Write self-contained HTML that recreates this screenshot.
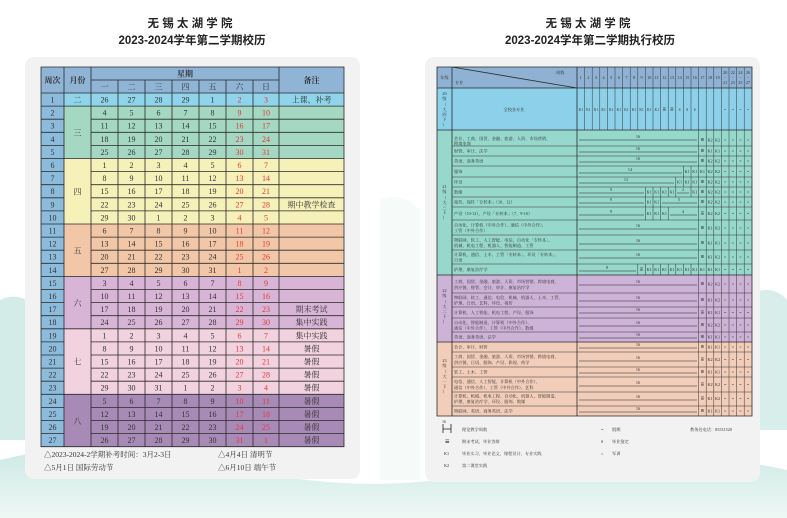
<!DOCTYPE html>
<html><head><meta charset="utf-8"><style>
html,body{margin:0;padding:0;background:#fff;}
svg{display:block;font-family:"Liberation Serif","Noto Serif CJK SC",serif;}
.t{font-family:"Liberation Sans","Noto Sans CJK SC",sans-serif;font-weight:bold;font-size:11.5px;fill:#222;text-anchor:middle}
.L text{font-size:8px;fill:#333;text-anchor:middle}
.L .r{fill:#e03a3a}
.R text{font-size:4.2px;fill:#333}
.R .c{text-anchor:middle}
.ln{stroke:#2a2a2a;stroke-width:0.8;fill:none}
.thin{stroke:#333;stroke-width:0.5;fill:none}
</style></head><body>
<svg width="787" height="518" viewBox="0 0 787 518" xmlns="http://www.w3.org/2000/svg">
<defs>
<linearGradient id="hill" x1="0" y1="0" x2="0" y2="1"><stop offset="0" stop-color="#bfe3dc"/><stop offset="1" stop-color="#eaf6f3"/></linearGradient>
</defs>
<rect width="787" height="518" fill="#fff"/>
<path d="M0 300 Q20 290 40 310 L40 440 L0 440Z" fill="#d3ece7"/>
<path d="M0 460 Q120 430 250 470 Q380 500 520 465 Q650 440 787 470 L787 518 L0 518Z" fill="url(#hill)" opacity="0.8"/>
<path d="M740 300 Q770 280 787 300 L787 430 L740 430Z" fill="#d8eeea"/>
<path d="M380 200 Q400 190 420 210 L420 480 L380 480Z" fill="#f6fbfa"/>
<text class="t" x="190" y="27">无 锡 太 湖 学 院</text>
<text class="t" x="192" y="44">2023-2024学年第二学期校历</text>
<text class="t" x="588" y="27">无 锡 太 湖 学 院</text>
<text class="t" x="590" y="44">2023-2024学年第二学期执行校历</text>
<rect x="25" y="57" width="335" height="422" rx="9" fill="#f2f2f2"/>
<rect x="425" y="57" width="335" height="425" rx="9" fill="#f2f2f2"/>

<g class="L">
<rect x="41" y="67" width="303" height="26" fill="#8fb4d6"/>
<rect x="41" y="93" width="23" height="353.7" fill="#8cbbdc"/>
<rect x="64" y="93" width="280" height="13.1" fill="#8fd4ea"/>
<rect x="64" y="106.1" width="280" height="52.4" fill="#a4d8c2"/>
<rect x="64" y="158.5" width="280" height="65.5" fill="#f6f0b9"/>
<rect x="64" y="224" width="280" height="52.4" fill="#f2c7a8"/>
<rect x="64" y="276.4" width="280" height="52.4" fill="#d8b5d6"/>
<rect x="64" y="328.8" width="280" height="65.5" fill="#f2d2de"/>
<rect x="64" y="394.3" width="280" height="52.4" fill="#a88ab6"/>
<path class="ln" d="M41 67H344V446.7H41Z M91 67V446.7 M64 67V446.7 M279 67V446.7 M91 80H279 M118 80V446.7 M145 80V446.7 M172 80V446.7 M199 80V446.7 M226 80V446.7 M253 80V446.7
M41 93H344 M41 106.1H344 M41 158.5H344 M41 224H344 M41 276.4H344 M41 328.8H344 M41 394.3H344
M41 119.2H64M91 119.2H344 M41 132.3H64M91 132.3H344 M41 145.4H64M91 145.4H344
M41 171.6H64M91 171.6H344 M41 184.7H64M91 184.7H344 M41 197.8H64M91 197.8H344 M41 210.9H64M91 210.9H344
M41 237.1H64M91 237.1H344 M41 250.2H64M91 250.2H344 M41 263.3H64M91 263.3H344
M41 289.5H64M91 289.5H344 M41 302.6H64M91 302.6H344 M41 315.7H64M91 315.7H344
M41 341.9H64M91 341.9H344 M41 355H64M91 355H344 M41 368.1H64M91 368.1H344 M41 381.2H64M91 381.2H344
M41 407.4H64M91 407.4H344 M41 420.5H64M91 420.5H344 M41 433.6H64M91 433.6H344"/>
<text x="52.5" y="83" style="font-weight:bold">周次</text>
<text x="77.5" y="83" style="font-weight:bold">月份</text>
<text x="185" y="76.5" style="font-weight:bold">星期</text>
<text x="311.5" y="83" style="font-weight:bold">备注</text>
<text y="89.5"><tspan x="104.5">一</tspan><tspan x="131.5">二</tspan><tspan x="158.5">三</tspan><tspan x="185.5">四</tspan><tspan x="212.5">五</tspan><tspan x="239.5">六</tspan><tspan x="266">日</tspan></text>
<text x="77.5" y="102.5">二</text><text x="77.5" y="135.5">三</text><text x="77.5" y="194.5">四</text><text x="77.5" y="253.5">五</text><text x="77.5" y="306">六</text><text x="77.5" y="364.5">七</text><text x="77.5" y="424">八</text>
<text y="102.5"><tspan x="52.5">1</tspan><tspan x="104.5">26</tspan><tspan x="131.5">27</tspan><tspan x="158.5">28</tspan><tspan x="185.5">29</tspan><tspan x="212.5">1</tspan><tspan x="239.5" class="r">2</tspan><tspan x="266" class="r">3</tspan><tspan x="311.5">上课、补考</tspan></text>
<text y="115.6"><tspan x="52.5">2</tspan><tspan x="104.5">4</tspan><tspan x="131.5">5</tspan><tspan x="158.5">6</tspan><tspan x="185.5">7</tspan><tspan x="212.5">8</tspan><tspan x="239.5" class="r">9</tspan><tspan x="266" class="r">10</tspan></text>
<text y="128.7"><tspan x="52.5">3</tspan><tspan x="104.5">11</tspan><tspan x="131.5">12</tspan><tspan x="158.5">13</tspan><tspan x="185.5">14</tspan><tspan x="212.5">15</tspan><tspan x="239.5" class="r">16</tspan><tspan x="266" class="r">17</tspan></text>
<text y="141.8"><tspan x="52.5">4</tspan><tspan x="104.5">18</tspan><tspan x="131.5">19</tspan><tspan x="158.5">20</tspan><tspan x="185.5">21</tspan><tspan x="212.5">22</tspan><tspan x="239.5" class="r">23</tspan><tspan x="266" class="r">24</tspan></text>
<text y="154.9"><tspan x="52.5">5</tspan><tspan x="104.5">25</tspan><tspan x="131.5">26</tspan><tspan x="158.5">27</tspan><tspan x="185.5">28</tspan><tspan x="212.5">29</tspan><tspan x="239.5" class="r">30</tspan><tspan x="266" class="r">31</tspan></text>
<text y="168"><tspan x="52.5">6</tspan><tspan x="104.5">1</tspan><tspan x="131.5">2</tspan><tspan x="158.5">3</tspan><tspan x="185.5">4</tspan><tspan x="212.5">5</tspan><tspan x="239.5" class="r">6</tspan><tspan x="266" class="r">7</tspan></text>
<text y="181.1"><tspan x="52.5">7</tspan><tspan x="104.5">8</tspan><tspan x="131.5">9</tspan><tspan x="158.5">10</tspan><tspan x="185.5">11</tspan><tspan x="212.5">12</tspan><tspan x="239.5" class="r">13</tspan><tspan x="266" class="r">14</tspan></text>
<text y="194.2"><tspan x="52.5">8</tspan><tspan x="104.5">15</tspan><tspan x="131.5">16</tspan><tspan x="158.5">17</tspan><tspan x="185.5">18</tspan><tspan x="212.5">19</tspan><tspan x="239.5" class="r">20</tspan><tspan x="266" class="r">21</tspan></text>
<text y="207.3"><tspan x="52.5">9</tspan><tspan x="104.5">22</tspan><tspan x="131.5">23</tspan><tspan x="158.5">24</tspan><tspan x="185.5">25</tspan><tspan x="212.5">26</tspan><tspan x="239.5" class="r">27</tspan><tspan x="266" class="r">28</tspan><tspan x="311.5">期中教学检查</tspan></text>
<text y="220.4"><tspan x="52.5">10</tspan><tspan x="104.5">29</tspan><tspan x="131.5">30</tspan><tspan x="158.5">1</tspan><tspan x="185.5">2</tspan><tspan x="212.5">3</tspan><tspan x="239.5" class="r">4</tspan><tspan x="266" class="r">5</tspan></text>
<text y="233.5"><tspan x="52.5">11</tspan><tspan x="104.5">6</tspan><tspan x="131.5">7</tspan><tspan x="158.5">8</tspan><tspan x="185.5">9</tspan><tspan x="212.5">10</tspan><tspan x="239.5" class="r">11</tspan><tspan x="266" class="r">12</tspan></text>
<text y="246.6"><tspan x="52.5">12</tspan><tspan x="104.5">13</tspan><tspan x="131.5">14</tspan><tspan x="158.5">15</tspan><tspan x="185.5">16</tspan><tspan x="212.5">17</tspan><tspan x="239.5" class="r">18</tspan><tspan x="266" class="r">19</tspan></text>
<text y="259.7"><tspan x="52.5">13</tspan><tspan x="104.5">20</tspan><tspan x="131.5">21</tspan><tspan x="158.5">22</tspan><tspan x="185.5">23</tspan><tspan x="212.5">24</tspan><tspan x="239.5" class="r">25</tspan><tspan x="266" class="r">26</tspan></text>
<text y="272.8"><tspan x="52.5">14</tspan><tspan x="104.5">27</tspan><tspan x="131.5">28</tspan><tspan x="158.5">29</tspan><tspan x="185.5">30</tspan><tspan x="212.5">31</tspan><tspan x="239.5" class="r">1</tspan><tspan x="266" class="r">2</tspan></text>
<text y="285.9"><tspan x="52.5">15</tspan><tspan x="104.5">3</tspan><tspan x="131.5">4</tspan><tspan x="158.5">5</tspan><tspan x="185.5">6</tspan><tspan x="212.5">7</tspan><tspan x="239.5" class="r">8</tspan><tspan x="266" class="r">9</tspan></text>
<text y="299"><tspan x="52.5">16</tspan><tspan x="104.5">10</tspan><tspan x="131.5">11</tspan><tspan x="158.5">12</tspan><tspan x="185.5">13</tspan><tspan x="212.5">14</tspan><tspan x="239.5" class="r">15</tspan><tspan x="266" class="r">16</tspan></text>
<text y="312.1"><tspan x="52.5">17</tspan><tspan x="104.5">17</tspan><tspan x="131.5">18</tspan><tspan x="158.5">19</tspan><tspan x="185.5">20</tspan><tspan x="212.5">21</tspan><tspan x="239.5" class="r">22</tspan><tspan x="266" class="r">23</tspan><tspan x="311.5">期末考试</tspan></text>
<text y="325.2"><tspan x="52.5">18</tspan><tspan x="104.5">24</tspan><tspan x="131.5">25</tspan><tspan x="158.5">26</tspan><tspan x="185.5">27</tspan><tspan x="212.5">28</tspan><tspan x="239.5" class="r">29</tspan><tspan x="266" class="r">30</tspan><tspan x="311.5">集中实践</tspan></text>
<text y="338.3"><tspan x="52.5">19</tspan><tspan x="104.5">1</tspan><tspan x="131.5">2</tspan><tspan x="158.5">3</tspan><tspan x="185.5">4</tspan><tspan x="212.5">5</tspan><tspan x="239.5" class="r">6</tspan><tspan x="266" class="r">7</tspan><tspan x="311.5">集中实践</tspan></text>
<text y="351.4"><tspan x="52.5">20</tspan><tspan x="104.5">8</tspan><tspan x="131.5">9</tspan><tspan x="158.5">10</tspan><tspan x="185.5">11</tspan><tspan x="212.5">12</tspan><tspan x="239.5" class="r">13</tspan><tspan x="266" class="r">14</tspan><tspan x="311.5">暑假</tspan></text>
<text y="364.5"><tspan x="52.5">21</tspan><tspan x="104.5">15</tspan><tspan x="131.5">16</tspan><tspan x="158.5">17</tspan><tspan x="185.5">18</tspan><tspan x="212.5">19</tspan><tspan x="239.5" class="r">20</tspan><tspan x="266" class="r">21</tspan><tspan x="311.5">暑假</tspan></text>
<text y="377.6"><tspan x="52.5">22</tspan><tspan x="104.5">22</tspan><tspan x="131.5">23</tspan><tspan x="158.5">24</tspan><tspan x="185.5">25</tspan><tspan x="212.5">26</tspan><tspan x="239.5" class="r">27</tspan><tspan x="266" class="r">28</tspan><tspan x="311.5">暑假</tspan></text>
<text y="390.7"><tspan x="52.5">23</tspan><tspan x="104.5">29</tspan><tspan x="131.5">30</tspan><tspan x="158.5">31</tspan><tspan x="185.5">1</tspan><tspan x="212.5">2</tspan><tspan x="239.5" class="r">3</tspan><tspan x="266" class="r">4</tspan><tspan x="311.5">暑假</tspan></text>
<text y="403.8"><tspan x="52.5">24</tspan><tspan x="104.5">5</tspan><tspan x="131.5">6</tspan><tspan x="158.5">7</tspan><tspan x="185.5">8</tspan><tspan x="212.5">9</tspan><tspan x="239.5" class="r">10</tspan><tspan x="266" class="r">11</tspan><tspan x="311.5">暑假</tspan></text>
<text y="416.9"><tspan x="52.5">25</tspan><tspan x="104.5">12</tspan><tspan x="131.5">13</tspan><tspan x="158.5">14</tspan><tspan x="185.5">15</tspan><tspan x="212.5">16</tspan><tspan x="239.5" class="r">17</tspan><tspan x="266" class="r">18</tspan><tspan x="311.5">暑假</tspan></text>
<text y="430"><tspan x="52.5">26</tspan><tspan x="104.5">19</tspan><tspan x="131.5">20</tspan><tspan x="158.5">21</tspan><tspan x="185.5">22</tspan><tspan x="212.5">23</tspan><tspan x="239.5" class="r">24</tspan><tspan x="266" class="r">25</tspan><tspan x="311.5">暑假</tspan></text>
<text y="443.1"><tspan x="52.5">27</tspan><tspan x="104.5">26</tspan><tspan x="131.5">27</tspan><tspan x="158.5">28</tspan><tspan x="185.5">29</tspan><tspan x="212.5">30</tspan><tspan x="239.5" class="r">31</tspan><tspan x="266" class="r">1</tspan><tspan x="311.5">暑假</tspan></text>
<text x="44" y="457" style="text-anchor:start;font-size:7.5px">△2023-2024-2学期补考时间：3月2-3日</text>
<text x="218" y="457" style="text-anchor:start;font-size:7.5px">△4月4日  清明节</text>
<text x="44" y="470" style="text-anchor:start;font-size:7.5px">△5月1日  国际劳动节</text>
<text x="218" y="470" style="text-anchor:start;font-size:7.5px">△6月10日  端午节</text>
</g>

<g class="R">
<rect x="437" y="67" width="315" height="21" fill="#8fb2d4"/>
<rect x="437" y="88" width="315" height="42" fill="#8dd0ea"/>
<rect x="437" y="130" width="315" height="145" fill="#97d8cd"/>
<rect x="437" y="275" width="315" height="67" fill="#cdb3d8"/>
<rect x="437" y="342" width="315" height="74" fill="#f2cdb9"/>
<path class="ln" d="M437 67H752V416H437Z M452 67V416 M577 67V416 M437 88H752 M437 130H752 M437 275H752 M437 342H752 M452 67L577 88"/>
<path class="thin" d="M584.6 67V130 M592.2 67V130 M599.8 67V130 M607.4 67V130 M615 67V130 M622.6 67V130 M630.2 67V130 M637.8 67V130 M645.4 67V130 M653 67V130 M660.6 67V130 M668.2 67V130 M675.8 67V130 M683.4 67V130 M691 67V130
M698.6 67V416 M706.2 67V416 M713.8 67V416 M721.4 67V416 M729 67V416 M736.6 67V416 M744.2 67V416
M452 146H752 M452 156H752 M452 166H752 M452 177H752 M452 187H752 M452 197H752 M452 207H752 M452 220H752 M452 235H752 M452 250H752 M452 264H752
M452 293H752 M452 307H752 M452 318H752 M452 332H752 M452 352H752 M452 367H752 M452 377H752 M452 392H752 M452 406H752
M683.4 166V177 M691 166V177 M675.8 177V187 M683.4 177V187 M691 177V187 M645.4 187V197 M653 187V197 M660.6 187V197 M668.2 187V197 M675.8 187V197 M691 187V197 M645.4 197V207 M653 197V207 M660.6 197V207 M645.4 207V220 M653 207V220 M660.6 207V220 M668.2 207V220 M637.8 264V275 M645.4 264V275 M653 264V275 M660.6 264V275 M668.2 264V275 M675.8 264V275 M683.4 264V275 M691 264V275"/>
<text x="444.5" y="79" class="c">年级</text>
<text x="455" y="84">专业</text>
<text x="556" y="74">周数</text>
<text y="79" class="c"><tspan x="580.8">1</tspan><tspan x="588.4">2</tspan><tspan x="596">3</tspan><tspan x="603.6">4</tspan><tspan x="611.2">5</tspan><tspan x="618.8">6</tspan><tspan x="626.4">7</tspan><tspan x="634">8</tspan><tspan x="641.6">9</tspan><tspan x="649.2">10</tspan><tspan x="656.8">11</tspan><tspan x="664.4">12</tspan><tspan x="672">13</tspan><tspan x="679.6">14</tspan><tspan x="687.2">15</tspan><tspan x="694.8">16</tspan><tspan x="702.4">17</tspan><tspan x="710">18</tspan><tspan x="717.6">19</tspan></text>
<text y="74" class="c"><tspan x="725.2">20</tspan><tspan x="732.8">22</tspan><tspan x="740.4">24</tspan><tspan x="748">26</tspan></text>
<text y="79" class="c"><tspan x="725.2">-</tspan><tspan x="732.8">-</tspan><tspan x="740.4">-</tspan><tspan x="748">-</tspan></text>
<text y="84" class="c"><tspan x="725.2">21</tspan><tspan x="732.8">23</tspan><tspan x="740.4">25</tspan><tspan x="748">27</tspan></text>
<text class="c" x="444.5"><tspan x="444.5" y="95">20</tspan><tspan x="444.5" y="100">级</tspan><tspan x="444.5" y="106">（</tspan><tspan x="444.5" y="111">大</tspan><tspan x="444.5" y="116">四</tspan><tspan x="444.5" y="121">下</tspan><tspan x="444.5" y="126">）</tspan></text>
<text class="c"><tspan x="444.5" y="188">21</tspan><tspan x="444.5" y="193">级</tspan><tspan x="444.5" y="199">（</tspan><tspan x="444.5" y="204">大</tspan><tspan x="444.5" y="209">三</tspan><tspan x="444.5" y="214">下</tspan><tspan x="444.5" y="219">）</tspan></text>
<text class="c"><tspan x="444.5" y="292">22</tspan><tspan x="444.5" y="297">级</tspan><tspan x="444.5" y="303">（</tspan><tspan x="444.5" y="308">大</tspan><tspan x="444.5" y="313">二</tspan><tspan x="444.5" y="318">下</tspan><tspan x="444.5" y="323">）</tspan></text>
<text class="c"><tspan x="444.5" y="362">23</tspan><tspan x="444.5" y="367">级</tspan><tspan x="444.5" y="373">（</tspan><tspan x="444.5" y="378">大</tspan><tspan x="444.5" y="383">一</tspan><tspan x="444.5" y="388">下</tspan><tspan x="444.5" y="393">）</tspan></text>
<text x="514" y="111" class="c">全校各专业</text>
<text y="111" class="c" style="font-size:3.6px"><tspan x="580.8">K1</tspan><tspan x="588.4">K1</tspan><tspan x="596">K1</tspan><tspan x="603.6">K1</tspan><tspan x="611.2">K1</tspan><tspan x="618.8">K1</tspan><tspan x="626.4">K1</tspan><tspan x="634">K1</tspan><tspan x="641.6">K1</tspan><tspan x="649.2">K1</tspan><tspan x="656.8">K1</tspan><tspan x="664.4" style="font-size:6px;font-weight:bold">≡</tspan><tspan x="672" style="font-size:6px;font-weight:bold">≡</tspan><tspan x="679.6">S</tspan><tspan x="687.2">S</tspan><tspan x="694.8">S</tspan><tspan x="725.2">=</tspan><tspan x="732.8">=</tspan><tspan x="740.4">=</tspan><tspan x="748">=</tspan></text>
<text x="454" y="140">会计、工商、国贸、金融、旅游、人资、市场营销、</text><text x="454" y="145">跨境电商</text>
<text x="454" y="152.5">财管、审计、法学</text>
<text x="454" y="162.5">英语、商务英语</text>
<text x="454" y="173">服饰</text>
<text x="454" y="183.5">环设</text>
<text x="454" y="193.5">数媒</text>
<text x="454" y="203.5">视传、视传「专转本」（10、12）</text>
<text x="454" y="215">产设（10-12），产设「专转本」（7、9-10）</text>
<text x="454" y="226.5">自动化、计算机（中外合作）、通信（中外合作）、</text><text x="454" y="232">工管（中外合作）</text>
<text x="454" y="241.5">物联网、软工、人工智能、电信、自动化「专转本」、</text><text x="454" y="247">机械、机电工程、机器人、智能制造、工管</text>
<text x="454" y="256">计算机、通信、土木、工管「专转本」、环设「专转本」、</text><text x="454" y="261.5">日语</text>
<text x="454" y="271">护理、康复治疗学</text>
<text x="454" y="283">工商、国贸、金融、旅游、人资、市场营销、跨境电商、</text><text x="454" y="289">供应链、财管、会计、审计、康复治疗学</text>
<text x="454" y="299">物联网、软工、通信、电信、机械、机器人、土木、工管、</text><text x="454" y="304.5">护理、日语、艺科、环设、视传</text>
<text x="454" y="314">计算机、人工智能、机电工程、产设、服饰</text>
<text x="454" y="324">自动化、智能制造、计算机（中外合作）、</text><text x="454" y="329.5">通信（中外合作）、工管（中外合作）、数媒</text>
<text x="454" y="338.5">英语、商务英语、法学</text>
<text x="454" y="348.5">会计、审计、财管</text>
<text x="454" y="358">工商、国贸、金融、旅游、人资、市场营销、跨境电商、</text><text x="454" y="364">供应链、日语、服饰、产设、影视、药学</text>
<text x="454" y="373.5">软工、土木、工管</text>
<text x="454" y="383">电信、通信、人工智能、计算机（中外合作）、</text><text x="454" y="389">通信（中外合作）、工管（中外合作）、艺科</text>
<text x="454" y="397.5">计算机、机械、机电工程、自动化、机器人、智能制造、</text><text x="454" y="403">护理、康复治疗学、环设、服饰、数媒</text>
<text x="454" y="412.5">物联网、英语、商务英语、法学</text>
<g stroke="#222" stroke-width="0.5">
<path d="M579 140H697 M579 152H697 M579 162H697 M579 173H682 M579 183H674 M579 193H644 M677 193H689 M579 203H644 M662 203H697 M579 215H644 M670 215H697 M579 229H697 M579 244H697 M579 258H697 M579 271H636
M579 285H697 M579 301H697 M579 313H697 M579 326H697 M579 338H697 M579 348H697 M579 361H697 M579 373H697 M579 386H697 M579 400H697 M579 412H697"/>
</g>
<g class="c" style="font-size:4px">
<text x="638" y="138">16</text><text x="638" y="150">16</text><text x="638" y="160">16</text><text x="630" y="171">14</text><text x="626" y="181">13</text><text x="611" y="191">9</text><text x="683" y="191">2</text><text x="611" y="201">9</text><text x="679" y="201">5</text><text x="611" y="213">9</text><text x="683" y="213">4</text><text x="638" y="227">16</text><text x="638" y="242">16</text><text x="638" y="256">16</text><text x="607" y="269">8</text>
<text x="638" y="283">16</text><text x="638" y="299">16</text><text x="638" y="311">16</text><text x="638" y="324">16</text><text x="638" y="336">16</text><text x="638" y="346">16</text><text x="638" y="359">16</text><text x="638" y="371">16</text><text x="638" y="384">16</text><text x="638" y="398">16</text><text x="638" y="410">16</text>
</g>
<g class="c" style="font-size:3.6px">
<text y="141.5"><tspan x="702.4" style="font-size:6px;font-weight:bold">≡</tspan><tspan x="710">K2</tspan><tspan x="717.6">K2</tspan></text>
<text y="152.5"><tspan x="702.4" style="font-size:6px;font-weight:bold">≡</tspan><tspan x="710">K1</tspan><tspan x="717.6">K1</tspan></text>
<text y="162.5"><tspan x="702.4" style="font-size:6px;font-weight:bold">≡</tspan><tspan x="710">K2</tspan><tspan x="717.6">K2</tspan></text>
<text y="173"><tspan x="687.2">K1</tspan><tspan x="694.8">K1</tspan><tspan x="702.4">K1</tspan><tspan x="710">K2</tspan><tspan x="717.6">K2</tspan></text>
<text y="183.5"><tspan x="679.6">K1</tspan><tspan x="687.2">K1</tspan><tspan x="694.8">K1</tspan><tspan x="702.4" style="font-size:6px;font-weight:bold">≡</tspan><tspan x="710">K2</tspan><tspan x="717.6">K2</tspan></text>
<text y="193.5"><tspan x="649.2">K1</tspan><tspan x="656.8">K1</tspan><tspan x="664.4">K1</tspan><tspan x="672">K1</tspan><tspan x="694.8">K1</tspan><tspan x="702.4" style="font-size:6px;font-weight:bold">≡</tspan><tspan x="710">K2</tspan><tspan x="717.6">K2</tspan></text>
<text y="203.5"><tspan x="649.2">K1</tspan><tspan x="656.8">K1</tspan><tspan x="702.4" style="font-size:6px;font-weight:bold">≡</tspan><tspan x="710">K2</tspan><tspan x="717.6">K2</tspan></text>
<text y="215"><tspan x="649.2">K1</tspan><tspan x="656.8">K1</tspan><tspan x="664.4">K1</tspan><tspan x="702.4" style="font-size:6px;font-weight:bold">≡</tspan><tspan x="710">K2</tspan><tspan x="717.6">K2</tspan></text>
<text y="229.5"><tspan x="702.4" style="font-size:6px;font-weight:bold">≡</tspan><tspan x="710">K1</tspan><tspan x="717.6">K2</tspan></text>
<text y="244.5"><tspan x="702.4" style="font-size:6px;font-weight:bold">≡</tspan><tspan x="710">K1</tspan><tspan x="717.6">K1</tspan></text>
<text y="258.5"><tspan x="702.4" style="font-size:6px;font-weight:bold">≡</tspan><tspan x="710">K1</tspan><tspan x="717.6">K2</tspan></text>
<text y="271"><tspan x="641.6" style="font-size:6px;font-weight:bold">≡</tspan><tspan x="649.2">K1</tspan><tspan x="656.8">K1</tspan><tspan x="664.4">K1</tspan><tspan x="672">K1</tspan><tspan x="679.6">K1</tspan><tspan x="687.2">K1</tspan><tspan x="694.8">K1</tspan><tspan x="702.4">K1</tspan><tspan x="710">K1</tspan><tspan x="717.6">K1</tspan></text>
<text y="285.5"><tspan x="702.4" style="font-size:6px;font-weight:bold">≡</tspan><tspan x="710">K2</tspan><tspan x="717.6">K2</tspan></text>
<text y="301.5"><tspan x="702.4" style="font-size:6px;font-weight:bold">≡</tspan><tspan x="710">K1</tspan><tspan x="717.6">K2</tspan></text>
<text y="314"><tspan x="702.4" style="font-size:6px;font-weight:bold">≡</tspan><tspan x="710">K1</tspan><tspan x="717.6">K1</tspan></text>
<text y="326.5"><tspan x="702.4" style="font-size:6px;font-weight:bold">≡</tspan><tspan x="710">K2</tspan><tspan x="717.6">K2</tspan></text>
<text y="338.5"><tspan x="702.4" style="font-size:6px;font-weight:bold">≡</tspan><tspan x="710">K1</tspan><tspan x="717.6">K1</tspan></text>
<text y="348.5"><tspan x="702.4" style="font-size:6px;font-weight:bold">≡</tspan><tspan x="710">K1</tspan><tspan x="717.6">K1</tspan></text>
<text y="361"><tspan x="702.4" style="font-size:6px;font-weight:bold">≡</tspan><tspan x="710">K2</tspan><tspan x="717.6">K2</tspan></text>
<text y="373.5"><tspan x="702.4" style="font-size:6px;font-weight:bold">≡</tspan><tspan x="710">K1</tspan><tspan x="717.6">K1</tspan></text>
<text y="386"><tspan x="702.4" style="font-size:6px;font-weight:bold">≡</tspan><tspan x="710">K2</tspan><tspan x="717.6">K2</tspan></text>
<text y="400"><tspan x="702.4" style="font-size:6px;font-weight:bold">≡</tspan><tspan x="710">K1</tspan><tspan x="717.6">K2</tspan></text>
<text y="412.5"><tspan x="702.4" style="font-size:6px;font-weight:bold">≡</tspan><tspan x="710">K1</tspan><tspan x="717.6">K1</tspan></text>
</g>
<g class="c" style="font-size:5px">
<text y="141.5"><tspan x="725.2">=</tspan><tspan x="732.8">=</tspan><tspan x="740.4">=</tspan><tspan x="748">=</tspan></text>
<text y="152.5"><tspan x="725.2">=</tspan><tspan x="732.8">=</tspan><tspan x="740.4">=</tspan><tspan x="748">=</tspan></text>
<text y="162.5"><tspan x="725.2">=</tspan><tspan x="732.8">=</tspan><tspan x="740.4">=</tspan><tspan x="748">=</tspan></text>
<text y="173"><tspan x="725.2">=</tspan><tspan x="732.8">=</tspan><tspan x="740.4">=</tspan><tspan x="748">=</tspan></text>
<text y="183.5"><tspan x="725.2">=</tspan><tspan x="732.8">=</tspan><tspan x="740.4">=</tspan><tspan x="748">=</tspan></text>
<text y="193.5"><tspan x="725.2">=</tspan><tspan x="732.8">=</tspan><tspan x="740.4">=</tspan><tspan x="748">=</tspan></text>
<text y="203.5"><tspan x="725.2">=</tspan><tspan x="732.8">=</tspan><tspan x="740.4">=</tspan><tspan x="748">=</tspan></text>
<text y="215"><tspan x="725.2">=</tspan><tspan x="732.8">=</tspan><tspan x="740.4">=</tspan><tspan x="748">=</tspan></text>
<text y="229.5"><tspan x="725.2">=</tspan><tspan x="732.8">=</tspan><tspan x="740.4">=</tspan><tspan x="748">=</tspan></text>
<text y="244.5"><tspan x="725.2">=</tspan><tspan x="732.8">=</tspan><tspan x="740.4">=</tspan><tspan x="748">=</tspan></text>
<text y="258.5"><tspan x="725.2">=</tspan><tspan x="732.8">=</tspan><tspan x="740.4">=</tspan><tspan x="748">=</tspan></text>
<text y="271"><tspan x="725.2">=</tspan><tspan x="732.8">=</tspan><tspan x="740.4">=</tspan><tspan x="748">=</tspan></text>
<text y="285.5"><tspan x="725.2">=</tspan><tspan x="732.8">=</tspan><tspan x="740.4">=</tspan><tspan x="748">=</tspan></text>
<text y="301.5"><tspan x="725.2">=</tspan><tspan x="732.8">=</tspan><tspan x="740.4">=</tspan><tspan x="748">=</tspan></text>
<text y="314"><tspan x="725.2">=</tspan><tspan x="732.8">=</tspan><tspan x="740.4">=</tspan><tspan x="748">=</tspan></text>
<text y="326.5"><tspan x="725.2">=</tspan><tspan x="732.8">=</tspan><tspan x="740.4">=</tspan><tspan x="748">=</tspan></text>
<text y="338.5"><tspan x="725.2">=</tspan><tspan x="732.8">=</tspan><tspan x="740.4">=</tspan><tspan x="748">=</tspan></text>
<text y="348.5"><tspan x="725.2">=</tspan><tspan x="732.8">=</tspan><tspan x="740.4">=</tspan><tspan x="748">=</tspan></text>
<text y="361"><tspan x="725.2">=</tspan><tspan x="732.8">=</tspan><tspan x="740.4">=</tspan><tspan x="748">=</tspan></text>
<text y="373.5"><tspan x="725.2">=</tspan><tspan x="732.8">=</tspan><tspan x="740.4">=</tspan><tspan x="748">=</tspan></text>
<text y="386"><tspan x="725.2">=</tspan><tspan x="732.8">=</tspan><tspan x="740.4">=</tspan><tspan x="748">=</tspan></text>
<text y="400"><tspan x="725.2">=</tspan><tspan x="732.8">=</tspan><tspan x="740.4">=</tspan><tspan x="748">=</tspan></text>
<text y="412.5"><tspan x="725.2">=</tspan><tspan x="732.8">=</tspan><tspan x="740.4">=</tspan><tspan x="748">=</tspan></text>
</g>
<g style="font-size:5px">
<path d="M443 424V433 M443 429H451 M451 424V433" stroke="#222" stroke-width="0.8"/>
<text x="442" y="423" style="font-size:4px">16</text>
<text x="462" y="431">理论教学周数</text>
<text x="445" y="444" style="font-size:8px;font-weight:bold">≡</text>
<text x="462" y="443">期末考试、毕业答辩</text>
<text x="444" y="455">K1</text>
<text x="462" y="455">毕业实习、毕业论文、课程设计、专业实践</text>
<text x="444" y="467">K2</text>
<text x="462" y="467">第二课堂实践</text>
<text x="601" y="431">=</text><text x="612" y="431">假期</text>
<text x="601" y="443">S</text><text x="612" y="443">毕业鉴定</text>
<text x="601" y="455">○</text><text x="612" y="455">军训</text>
<text x="690" y="431">教务处电话：85531520</text>
</g>
</g>
</svg>
</body></html>
